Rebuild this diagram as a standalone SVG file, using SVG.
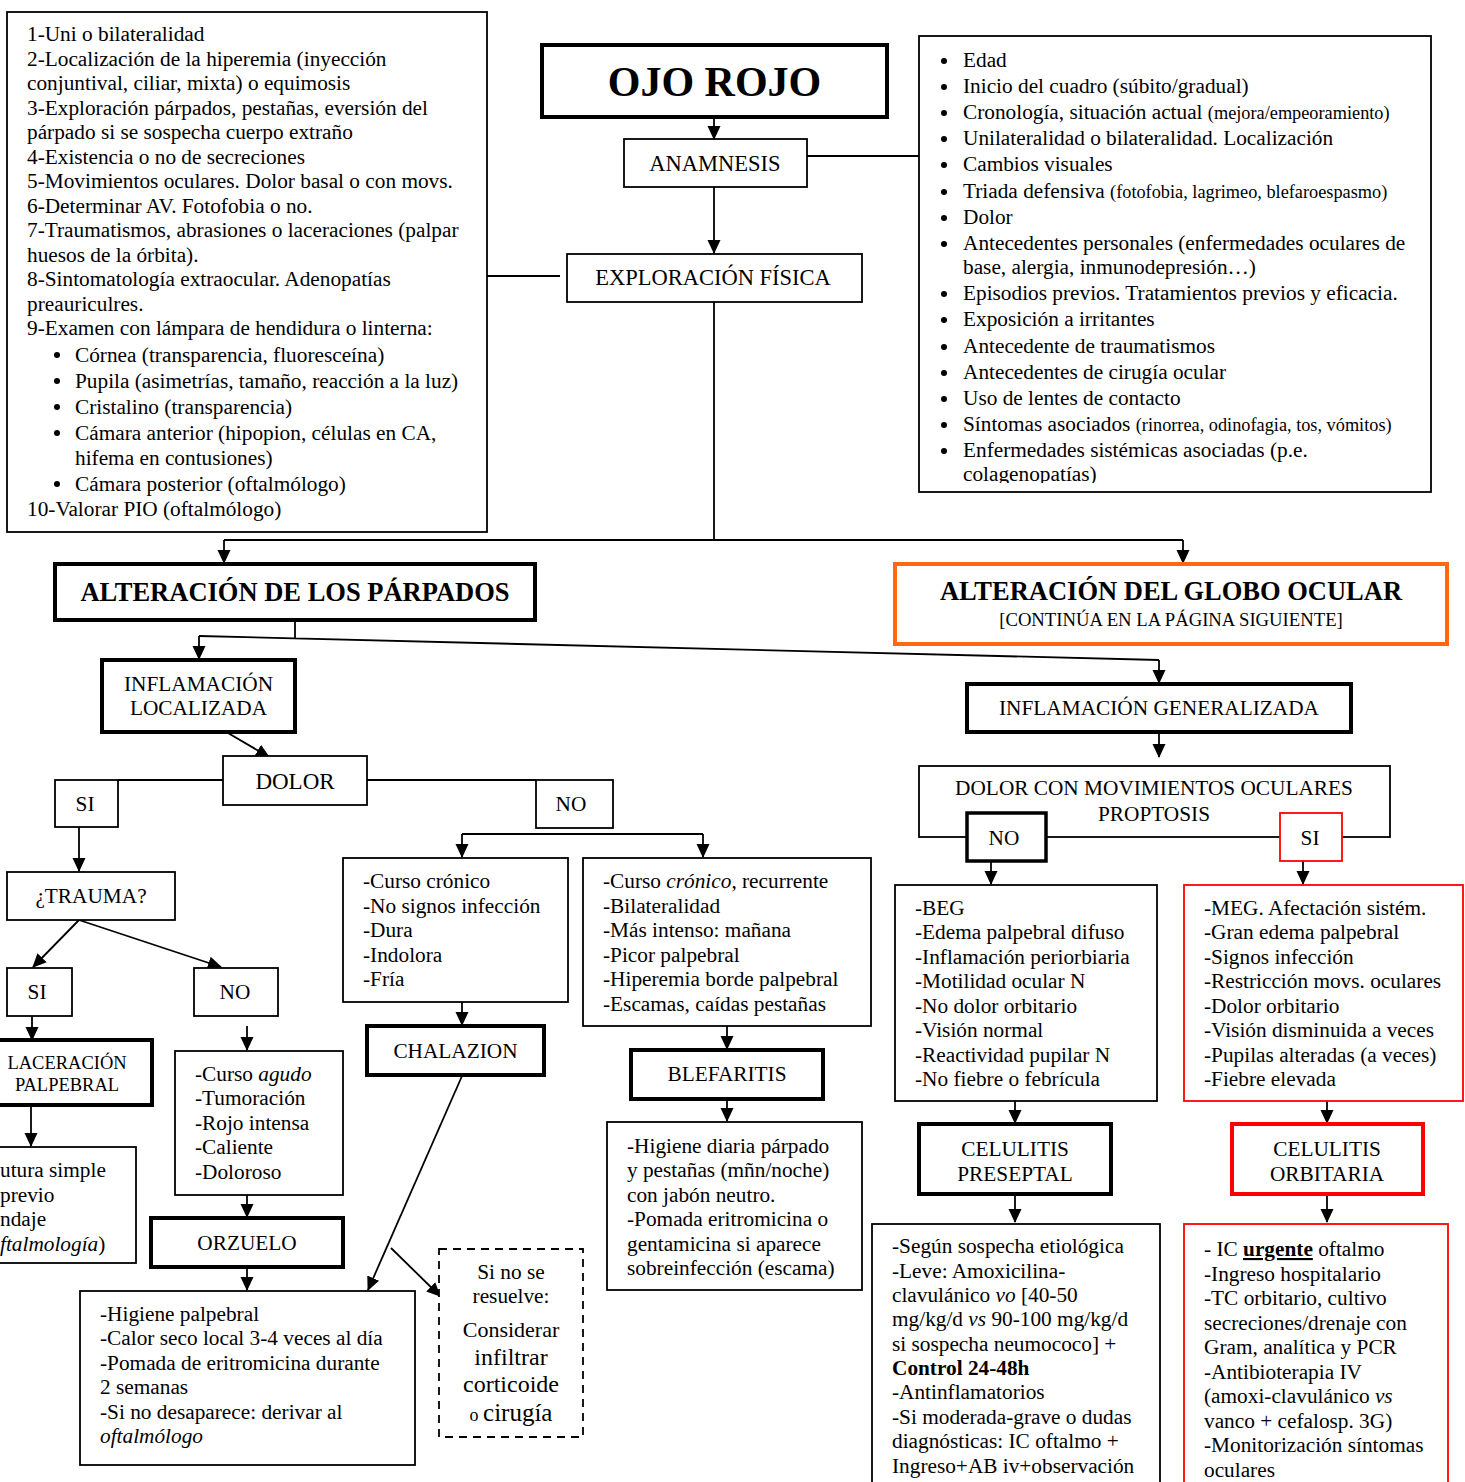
<svg xmlns="http://www.w3.org/2000/svg" width="1465" height="1482" viewBox="0 0 1465 1482">
<style>
text{font-family:"Liberation Serif","Times New Roman",serif;font-size:21.3px;fill:#000}
.box{fill:#fff;stroke:#000;stroke-width:1.8}
.thick{fill:#fff;stroke:#000;stroke-width:4}
.red{fill:#fff;stroke:#f00;stroke-width:1.8}
.redthick{fill:#fff;stroke:#f00;stroke-width:4}
.orange{fill:#fff;stroke:#ff6a10;stroke-width:4}
.dash{fill:#fff;stroke:#000;stroke-width:1.8;stroke-dasharray:8,6}
.c{text-anchor:middle}
.sm{font-size:18.3px}
.h{font-size:22.5px}
.b{font-weight:bold}
.i{font-style:italic}
.con{fill:none;stroke:#000;stroke-width:1.8}
.arr{fill:none;stroke:#000;stroke-width:1.8;marker-end:url(#ah)}
.dot{fill:#000}
</style>
<defs>
<marker id="ah" markerWidth="14" markerHeight="14" refX="13" refY="7" orient="auto" markerUnits="userSpaceOnUse"><path d="M0,0.5 L14,7 L0,13.5 z" fill="#000"/></marker>
<clipPath id="clipR"><rect x="919" y="36" width="512" height="447"/></clipPath>
</defs>
<rect width="1465" height="1482" fill="#fff"/>

<g id="connectors">
<path class="arr" d="M714,117 L714,139"/>
<path class="arr" d="M714,187 L714,253"/>
<path class="con" d="M799,156 L919,156"/>
<path class="con" d="M487,276 L560,276"/>
<path class="con" d="M714,302 L714,540 M224,540 L1183,540"/>
<path class="arr" d="M224,540 L224,563"/>
<path class="arr" d="M1183,540 L1183,563"/>
<path class="con" d="M295,612 L295,638 M199,636 L1159,660"/>
<path class="arr" d="M199,636 L199,659"/>
<path class="arr" d="M1159,660 L1159,683"/>
<path class="arr" d="M228,733 L269,757"/>
<path class="con" d="M118,780 L223,780 M367,780 L536,780"/>
<path class="arr" d="M79,827 L79,871"/>
<path class="arr" d="M79,920 L33,967"/>
<path class="arr" d="M79,920 L221,967"/>
<path class="arr" d="M32,1016 L32,1040"/>
<path class="arr" d="M31,1098 L31,1146"/>
<path class="arr" d="M247,1026 L247,1050"/>
<path class="arr" d="M247,1195 L247,1217"/>
<path class="arr" d="M247,1267 L247,1290"/>
<path class="con" d="M462,834 L703,834"/>
<path class="arr" d="M462,834 L462,857"/>
<path class="arr" d="M703,834 L703,857"/>
<path class="arr" d="M462,1002 L462,1025"/>
<path class="arr" d="M462,1076 L368,1290"/>
<path class="arr" d="M391,1248 L440,1296"/>
<path class="arr" d="M727,1026 L727,1049"/>
<path class="arr" d="M727,1092 L727,1121"/>
<path class="arr" d="M1159,732 L1159,757"/>
<path class="arr" d="M991,861 L991,884"/>
<path class="arr" d="M1303,861 L1303,884"/>
<path class="arr" d="M1015,1101 L1015,1123"/>
<path class="arr" d="M1015,1194 L1015,1222"/>
<path class="arr" d="M1327,1101 L1327,1123"/>
<path class="arr" d="M1327,1194 L1327,1222"/>
</g>

<g id="exploracion-lista">
<rect class="box" x="7" y="12" width="480" height="520"/>
<text x="27" y="41">1-Uni o bilateralidad</text>
<text x="27" y="65.5">2-Localización de la hiperemia (inyección</text>
<text x="27" y="90">conjuntival, ciliar, mixta) o equimosis</text>
<text x="27" y="114.5">3-Exploración párpados, pestañas, eversión del</text>
<text x="27" y="139">párpado si se sospecha cuerpo extraño</text>
<text x="27" y="163.5">4-Existencia o no de secreciones</text>
<text x="27" y="188">5-Movimientos oculares. Dolor basal o con movs.</text>
<text x="27" y="212.5">6-Determinar AV. Fotofobia o no.</text>
<text x="27" y="237">7-Traumatismos, abrasiones o laceraciones (palpar</text>
<text x="27" y="261.5">huesos de la órbita).</text>
<text x="27" y="286">8-Sintomatología extraocular. Adenopatías</text>
<text x="27" y="310.5">preauriculres.</text>
<text x="27" y="335">9-Examen con lámpara de hendidura o linterna:</text>
<circle class="dot" cx="57" cy="355" r="3"/>
<text x="75" y="362">Córnea (transparencia, fluoresceína)</text>
<circle class="dot" cx="57" cy="381" r="3"/>
<text x="75" y="388">Pupila (asimetrías, tamaño, reacción a la luz)</text>
<circle class="dot" cx="57" cy="407" r="3"/>
<text x="75" y="414">Cristalino (transparencia)</text>
<circle class="dot" cx="57" cy="433" r="3"/>
<text x="75" y="440">Cámara anterior (hipopion, células en CA,</text>
<text x="75" y="465">hifema en contusiones)</text>
<circle class="dot" cx="57" cy="484" r="3"/>
<text x="75" y="491">Cámara posterior (oftalmólogo)</text>
<text x="27" y="516">10-Valorar PIO (oftalmólogo)</text>
</g>

<g id="ojo-rojo">
<rect class="thick" x="542" y="45" width="345" height="72"/>
<text class="c b" x="714.5" y="96" style="font-size:42px">OJO ROJO</text>
</g>
<g id="anamnesis">
<rect class="box" x="624" y="139" width="183" height="48"/>
<text class="c h" x="715" y="171">ANAMNESIS</text>
</g>
<g id="exploracion">
<rect class="box" x="567" y="254" width="295" height="48"/>
<text class="c h" x="713" y="285">EXPLORACIÓN FÍSICA</text>
</g>

<g id="anamnesis-lista">
<rect class="box" x="919" y="36" width="512" height="456"/>
<g clip-path="url(#clipR)">
<circle class="dot" cx="944" cy="61" r="3"/><text x="963" y="67">Edad</text>
<circle class="dot" cx="944" cy="87" r="3"/><text x="963" y="93">Inicio del cuadro (súbito/gradual)</text>
<circle class="dot" cx="944" cy="113" r="3"/><text x="963" y="119">Cronología, situación actual <tspan class="sm">(mejora/empeoramiento)</tspan></text>
<circle class="dot" cx="944" cy="139" r="3"/><text x="963" y="145">Unilateralidad o bilateralidad. Localización</text>
<circle class="dot" cx="944" cy="165" r="3"/><text x="963" y="171">Cambios visuales</text>
<circle class="dot" cx="944" cy="192" r="3"/><text x="963" y="198">Triada defensiva <tspan class="sm">(fotofobia, lagrimeo, blefaroespasmo)</tspan></text>
<circle class="dot" cx="944" cy="218" r="3"/><text x="963" y="224">Dolor</text>
<circle class="dot" cx="944" cy="244" r="3"/><text x="963" y="250">Antecedentes personales (enfermedades oculares de</text>
<text x="963" y="274">base, alergia, inmunodepresión…)</text>
<circle class="dot" cx="944" cy="294" r="3"/><text x="963" y="300">Episodios previos. Tratamientos previos y eficacia.</text>
<circle class="dot" cx="944" cy="320" r="3"/><text x="963" y="326">Exposición a irritantes</text>
<circle class="dot" cx="944" cy="347" r="3"/><text x="963" y="353">Antecedente de traumatismos</text>
<circle class="dot" cx="944" cy="373" r="3"/><text x="963" y="379">Antecedentes de cirugía ocular</text>
<circle class="dot" cx="944" cy="399" r="3"/><text x="963" y="405">Uso de lentes de contacto</text>
<circle class="dot" cx="944" cy="425" r="3"/><text x="963" y="431">Síntomas asociados <tspan class="sm">(rinorrea, odinofagia, tos, vómitos)</tspan></text>
<circle class="dot" cx="944" cy="451" r="3"/><text x="963" y="457">Enfermedades sistémicas asociadas (p.e.</text>
<text x="963" y="481">colagenopatías)</text>
</g>
</g>

<g id="alt-parpados">
<rect class="thick" x="55" y="564" width="480" height="56"/>
<text class="c b" x="295" y="601" style="font-size:26.5px">ALTERACIÓN DE LOS PÁRPADOS</text>
</g>
<g id="alt-globo">
<rect class="orange" x="895" y="564" width="552" height="80"/>
<text class="c b" x="1171" y="600" style="font-size:26.5px">ALTERACIÓN DEL GLOBO OCULAR</text>
<text class="c" x="1171" y="626" style="font-size:18.7px">[CONTINÚA EN LA PÁGINA SIGUIENTE]</text>
</g>

<g id="inflamacion-localizada">
<rect class="thick" x="102" y="660" width="193" height="72"/>
<text class="c" x="198.5" y="691">INFLAMACIÓN</text>
<text class="c" x="198.5" y="715">LOCALIZADA</text>
</g>
<g id="inflamacion-generalizada">
<rect class="thick" x="967" y="684" width="384" height="48"/>
<text class="c" x="1159" y="715">INFLAMACIÓN GENERALIZADA</text>
</g>

<g id="dolor">
<rect class="box" x="223" y="756" width="144" height="49"/>
<text class="c" x="295" y="789" style="font-size:23px">DOLOR</text>
</g>
<g id="dolor-si">
<rect class="box" x="55" y="780" width="63" height="47"/>
<text class="c" x="85" y="811">SI</text>
</g>
<g id="dolor-no">
<rect class="box" x="536" y="780" width="77" height="48"/>
<text class="c" x="571" y="811">NO</text>
</g>

<g id="trauma">
<rect class="box" x="7" y="872" width="168" height="48"/>
<text class="c" x="91" y="903">¿TRAUMA?</text>
</g>
<g id="trauma-si">
<rect class="box" x="7" y="968" width="65" height="48"/>
<text class="c" x="37" y="999">SI</text>
</g>
<g id="trauma-no">
<rect class="box" x="194" y="968" width="84" height="48"/>
<text class="c" x="235" y="999">NO</text>
</g>

<g id="laceracion">
<rect class="thick" x="-5" y="1040" width="157" height="65"/>
<text class="c" x="67" y="1069" style="font-size:18.5px">LACERACIÓN</text>
<text class="c" x="67" y="1091" style="font-size:18.5px">PALPEBRAL</text>
</g>
<g id="laceracion-tratamiento">
<rect class="box" x="-5" y="1147" width="141" height="116"/>
<text x="0" y="1177">utura simple</text>
<text x="0" y="1201.5">previo</text>
<text x="0" y="1226">ndaje</text>
<text x="0" y="1250.5"><tspan class="i">ftalmología</tspan>)</text>
</g>

<g id="orzuelo-clinica">
<rect class="box" x="175" y="1051" width="168" height="144"/>
<text x="195" y="1080.5">-Curso <tspan class="i">agudo</tspan></text>
<text x="195" y="1105">-Tumoración</text>
<text x="195" y="1129.5">-Rojo intensa</text>
<text x="195" y="1154">-Caliente</text>
<text x="195" y="1178.5">-Doloroso</text>
</g>
<g id="orzuelo">
<rect class="thick" x="151" y="1218" width="192" height="49"/>
<text class="c" x="247" y="1250">ORZUELO</text>
</g>
<g id="orzuelo-tratamiento">
<rect class="box" x="80" y="1291" width="335" height="174"/>
<text x="100" y="1320.5">-Higiene palpebral</text>
<text x="100" y="1345">-Calor seco local 3-4 veces al día</text>
<text x="100" y="1369.5">-Pomada de eritromicina durante</text>
<text x="100" y="1394">2 semanas</text>
<text x="100" y="1418.5">-Si no desaparece: derivar al</text>
<text x="100" y="1443" class="i">oftalmólogo</text>
</g>

<g id="chalazion-clinica">
<rect class="box" x="343" y="858" width="225" height="144"/>
<text x="363" y="888">-Curso crónico</text>
<text x="363" y="912.5">-No signos infección</text>
<text x="363" y="937">-Dura</text>
<text x="363" y="961.5">-Indolora</text>
<text x="363" y="986">-Fría</text>
</g>
<g id="chalazion">
<rect class="thick" x="367" y="1026" width="177" height="49"/>
<text class="c" x="455.5" y="1058">CHALAZION</text>
</g>
<g id="chalazion-no-resuelve">
<rect class="dash" x="439" y="1249" width="144" height="188"/>
<text class="c" x="511" y="1279">Si no se</text>
<text class="c" x="511" y="1303">resuelve:</text>
<text class="c" x="511" y="1337" style="font-size:22px">Considerar</text>
<text class="c" x="511" y="1365" style="font-size:24px">infiltrar</text>
<text class="c" x="511" y="1392" style="font-size:24px">corticoide</text>
<text class="c" x="511" y="1421" style="font-size:25px"><tspan style="font-size:18px">o </tspan>cirugía</text>
</g>

<g id="blefaritis-clinica">
<rect class="box" x="583" y="858" width="288" height="168"/>
<text x="603" y="888">-Curso <tspan class="i">crónico</tspan>, recurrente</text>
<text x="603" y="912.5">-Bilateralidad</text>
<text x="603" y="937">-Más intenso: mañana</text>
<text x="603" y="961.5">-Picor palpebral</text>
<text x="603" y="986">-Hiperemia borde palpebral</text>
<text x="603" y="1010.5">-Escamas, caídas pestañas</text>
</g>
<g id="blefaritis">
<rect class="thick" x="631" y="1050" width="192" height="49"/>
<text class="c" x="727" y="1081">BLEFARITIS</text>
</g>
<g id="blefaritis-tratamiento">
<rect class="box" x="607" y="1122" width="255" height="168"/>
<text x="627" y="1152.5">-Higiene diaria párpado</text>
<text x="627" y="1177">y pestañas (mñn/noche)</text>
<text x="627" y="1201.5">con jabón neutro.</text>
<text x="627" y="1226">-Pomada eritromicina o</text>
<text x="627" y="1250.5">gentamicina si aparece</text>
<text x="627" y="1275">sobreinfección (escama)</text>
</g>

<g id="dolor-movimientos">
<rect class="box" x="919" y="766" width="471" height="71"/>
<text class="c" x="1154" y="795">DOLOR CON MOVIMIENTOS OCULARES</text>
<text class="c" x="1154" y="821">PROPTOSIS</text>
</g>
<g id="mov-no">
<rect class="box" x="967" y="813" width="79" height="48" style="stroke-width:3.5"/>
<text class="c" x="1004" y="845">NO</text>
</g>
<g id="mov-si">
<rect class="red" x="1280" y="813" width="62" height="48"/>
<text class="c" x="1310" y="845">SI</text>
</g>

<g id="preseptal-clinica">
<rect class="box" x="895" y="885" width="262" height="216"/>
<text x="915" y="914.5">-BEG</text>
<text x="915" y="939">-Edema palpebral difuso</text>
<text x="915" y="963.5">-Inflamación periorbiaria</text>
<text x="915" y="988">-Motilidad ocular N</text>
<text x="915" y="1012.5">-No dolor orbitario</text>
<text x="915" y="1037">-Visión normal</text>
<text x="915" y="1061.5">-Reactividad pupilar N</text>
<text x="915" y="1086">-No fiebre o febrícula</text>
</g>
<g id="orbitaria-clinica">
<rect class="red" x="1184" y="885" width="279" height="216"/>
<text x="1204" y="914.5">-MEG. Afectación sistém.</text>
<text x="1204" y="939">-Gran edema palpebral</text>
<text x="1204" y="963.5">-Signos infección</text>
<text x="1204" y="988">-Restricción movs. oculares</text>
<text x="1204" y="1012.5">-Dolor orbitario</text>
<text x="1204" y="1037">-Visión disminuida a veces</text>
<text x="1204" y="1061.5">-Pupilas alteradas (a veces)</text>
<text x="1204" y="1086">-Fiebre elevada</text>
</g>

<g id="celulitis-preseptal">
<rect class="thick" x="919" y="1124" width="192" height="70"/>
<text class="c" x="1015" y="1156">CELULITIS</text>
<text class="c" x="1015" y="1180.5">PRESEPTAL</text>
</g>
<g id="celulitis-orbitaria">
<rect class="redthick" x="1232" y="1124" width="191" height="70"/>
<text class="c" x="1327" y="1156">CELULITIS</text>
<text class="c" x="1327" y="1180.5">ORBITARIA</text>
</g>

<g id="preseptal-tratamiento">
<rect class="box" x="872" y="1224" width="288" height="290"/>
<text x="892" y="1253">-Según sospecha etiológica</text>
<text x="892" y="1277.5">-Leve: Amoxicilina-</text>
<text x="892" y="1302">clavulánico <tspan class="i">vo</tspan> [40-50</text>
<text x="892" y="1326">mg/kg/d <tspan class="i">vs</tspan> 90-100 mg/kg/d</text>
<text x="892" y="1350.5">si sospecha neumococo] +</text>
<text x="892" y="1375" class="b">Control 24-48h</text>
<text x="892" y="1399">-Antinflamatorios</text>
<text x="892" y="1424">-Si moderada-grave o dudas</text>
<text x="892" y="1448">diagnósticas: IC oftalmo +</text>
<text x="892" y="1472.5">Ingreso+AB iv+observación</text>
</g>
<g id="orbitaria-tratamiento">
<rect class="red" x="1184" y="1224" width="264" height="290"/>
<text x="1204" y="1256">- IC <tspan class="b" text-decoration="underline">urgente</tspan> oftalmo</text>
<text x="1204" y="1280.5">-Ingreso hospitalario</text>
<text x="1204" y="1305">-TC orbitario,  cultivo</text>
<text x="1204" y="1329.5">secreciones/drenaje con</text>
<text x="1204" y="1354">Gram, analítica y PCR</text>
<text x="1204" y="1378.5">-Antibioterapia  IV</text>
<text x="1204" y="1403">(amoxi-clavulánico <tspan class="i">vs</tspan></text>
<text x="1204" y="1427.5">vanco + cefalosp. 3G)</text>
<text x="1204" y="1452">-Monitorización síntomas</text>
<text x="1204" y="1476.5">oculares</text>
</g>
</svg>
